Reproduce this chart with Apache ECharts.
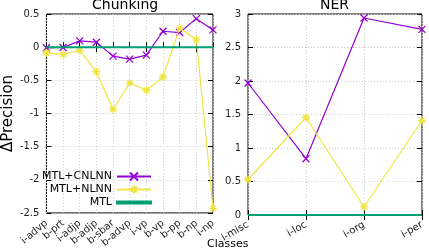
<!DOCTYPE html>
<html><head><meta charset="utf-8">
<script src="https://cdn.jsdelivr.net/npm/echarts@6/dist/echarts.min.js"></script>
<style>html,body{margin:0;padding:0;background:#fff}#c{width:429px;height:250px}</style>
</head><body><div id="c"></div>
<script>
const chunkClasses = ['i-advp','b-prt','i-adjp','b-adjp','b-sbar','b-advp','i-vp','b-vp','b-pp','b-np','i-np'];
const chunkCNLNN = [-0.01,-0.005,0.095,0.075,-0.135,-0.18,-0.12,0.24,0.22,0.43,0.26];
const chunkNLNN = [-0.085,-0.11,-0.05,-0.37,-0.94,-0.54,-0.65,-0.45,0.29,0.11,-2.43];
const chunkMTL = [0,0,0,0,0,0,0,0,0,0,0];
const nerClasses = ['i-misc','i-loc','i-org','i-per'];
const nerCNLNN = [1.97,0.84,2.94,2.77];
const nerNLNN = [0.53,1.455,0.12,1.41];
const nerMTL = [0,0,0,0];
const chunkMin = -2.5, chunkMax = 0.5, nerMin = 0, nerMax = 3, yStep = 0.5;
const seriesNames = ['MTL+CNLNN','MTL+NLNN','MTL'];

const FONT = 'DejaVu Sans';
const PURPLE = '#9400d3', YELLOW = '#f0e442', TEAL = '#009e73';
const CROSS = 'path://M0,0L10,10M10,0L0,10';
const STAR = 'path://M5,0L5,10M0,5L10,5M1.5,1.5L8.5,8.5M8.5,1.5L1.5,8.5';
const grid0 = {left:38, right:216, top:14, bottom:35, show:true, borderColor:'#000', borderWidth:1, backgroundColor:'transparent'};
const grid1 = {left:248, right:7, top:14, bottom:35, show:true, borderColor:'#000', borderWidth:1, backgroundColor:'transparent'};
const split = {show:true, lineStyle:{color:'#cccccc', type:[1,2], width:1}};
const tick = {show:true, inside:true, length:5, lineStyle:{color:'#000', width:1}};

function xMain(gi, data, rot){
  return {type:'category', gridIndex:gi, data:data, boundaryGap:false, position:'bottom',
    axisLine:{show:false}, axisTick:tick, splitLine:split,
    axisLabel:{rotate:rot, fontSize:10, fontFamily:FONT, color:'#222', margin:9, interval:0}};
}
function xTop(gi, data){
  return {type:'category', gridIndex:gi, data:data, boundaryGap:false, position:'top',
    axisLine:{show:false}, axisTick:tick, splitLine:{show:false}, axisLabel:{show:false}};
}
function yMain(gi, mn, mx, extra){
  return Object.assign({type:'value', gridIndex:gi, min:mn, max:mx, interval:yStep, position:'left',
    axisLine:{show:false}, axisTick:tick, splitLine:split,
    axisLabel:{fontSize:10, fontFamily:FONT, color:'#222', margin:7}}, extra||{});
}
function yRight(gi, mn, mx){
  return {type:'value', gridIndex:gi, min:mn, max:mx, interval:yStep, position:'right',
    axisLine:{show:false}, axisTick:tick, splitLine:{show:false}, axisLabel:{show:false}};
}
function mk(name, data, xi, yi){
  const idx = seriesNames.indexOf(name);
  const col = [PURPLE, YELLOW, TEAL][idx];
  const s = {name:name, type:'line', data:data, xAxisIndex:xi, yAxisIndex:yi,
    lineStyle:{color:col, width: idx===2 ? 2 : 1.2},
    itemStyle:{color:col, borderColor:col, borderWidth: 1.3},
    emphasis:{disabled:true}, animation:false, z: 2+idx};
  if (idx===0){ s.symbol = CROSS; s.symbolSize = 7; }
  else if (idx===1){ s.symbol = STAR; s.symbolSize = 8; }
  else { s.symbol = 'none'; }
  s.showSymbol = idx!==2;
  return s;
}
function leg(name, top, lineOnly){
  const l = {data:[name], right:277, top:top, orient:'vertical', align:'right', padding:0,
    itemWidth:34, itemHeight:10, itemGap:0, selectedMode:false,
    textStyle:{fontSize:11, fontFamily:FONT, color:'#000'}};
  if (lineOnly){ l.data = [{name:name, icon:'rect'}]; l.itemHeight = 2; }
  return l;
}

const chart = echarts.init(document.getElementById('c'), null, {renderer:'canvas'});
chart.setOption({
  animation:false,
  backgroundColor:'#fff',
  title:[
    {text:'Chunking', left:92, top:-2, padding:0, textStyle:{fontSize:14, fontWeight:'normal', fontFamily:FONT, color:'#000'}},
    {text:'NER', left:320, top:-2, padding:0, textStyle:{fontSize:14, fontWeight:'normal', fontFamily:FONT, color:'#000'}},
    {text:'Classes', left:207, top:239, padding:0, textStyle:{fontSize:11, fontWeight:'normal', fontFamily:FONT, color:'#000'}}
  ],
  legend:[leg(seriesNames[0],171), leg(seriesNames[1],184), leg(seriesNames[2],197,true)],
  grid:[grid0, grid1],
  xAxis:[xMain(0, chunkClasses, 40), xTop(0, chunkClasses), xMain(1, nerClasses, 30), xTop(1, nerClasses)],
  yAxis:[
    yMain(0, chunkMin, chunkMax, {name:'ΔPrecision', nameLocation:'middle', nameGap:29,
      nameTextStyle:{fontSize:15, fontFamily:FONT, color:'#000'}}),
    yRight(0, chunkMin, chunkMax),
    yMain(1, nerMin, nerMax),
    yRight(1, nerMin, nerMax)
  ],
  series:[
    mk('MTL+CNLNN', chunkCNLNN, 0, 0),
    mk('MTL+NLNN', chunkNLNN, 0, 0),
    mk('MTL', chunkMTL, 0, 0),
    mk('MTL+CNLNN', nerCNLNN, 2, 2),
    mk('MTL+NLNN', nerNLNN, 2, 2),
    mk('MTL', nerMTL, 2, 2)
  ]
});
</script></body></html>
